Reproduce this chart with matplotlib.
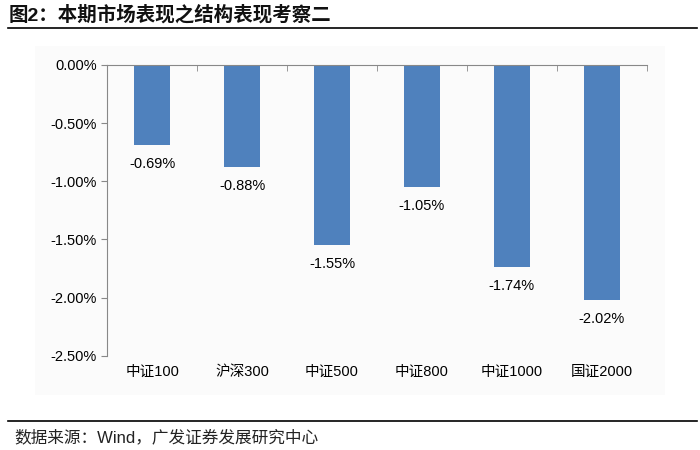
import matplotlib.pyplot as plt
from matplotlib.patches import Rectangle
from matplotlib.ticker import FuncFormatter

plt.rcParams['font.family'] = ['Liberation Sans', 'Noto Sans CJK SC', 'DejaVu Sans']

categories = ['中证100', '沪深300', '中证500', '中证800', '中证1000', '国证2000']
values = [-0.69, -0.88, -1.55, -1.05, -1.74, -2.02]
yticks = [0, -0.5, -1.0, -1.5, -2.0, -2.5]

fig = plt.figure(figsize=(7, 4.5), dpi=100)

# faint chart-area panel behind the plot
fig.add_artist(Rectangle((0.05, 0.122), 0.9, 0.776, transform=fig.transFigure,
                         facecolor='#fbfbfb', edgecolor='none', zorder=0))

# header and footer
fig.text(0.012, 0.966, '图2：本期市场表现之结构表现考察二', fontsize=14,
         fontweight='bold', va='center', ha='left', color='#111111')
fig.add_artist(plt.Line2D([0.012, 0.996], [0.937, 0.937], color='black', lw=1.2))
fig.add_artist(plt.Line2D([0.012, 0.996], [0.064, 0.064], color='black', lw=1.2))
fig.text(0.02, 0.028, '数据来源：Wind，广发证券发展研究中心', fontsize=12,
         va='center', ha='left', color='#222222')

ax = fig.add_axes([0.153, 0.209, 0.771, 0.647])
ax.set_facecolor('none')
x = range(len(categories))
ax.bar(x, values, width=0.4, color='#4f81bd', zorder=2)

for i, v in enumerate(values):
    ax.text(i, v - 0.1, f'{v:.2f}%', ha='center', va='top', fontsize=10.5)

ax.set_ylim(-2.5, 0)
ax.set_xlim(-0.5, len(categories) - 0.5)
ax.set_yticks(yticks)
ax.yaxis.set_major_formatter(FuncFormatter(lambda v, p: f'{v:.2f}%'))
ax.tick_params(axis='y', labelsize=10.5, length=4, color='#888888', direction='out')

# category axis sits at zero (top), labels at bottom
ax.spines['bottom'].set_visible(False)
ax.spines['right'].set_visible(False)
ax.spines['top'].set_color('#888888')
ax.spines['left'].set_color('#888888')
ax.set_xticks([])
ax.set_xticks([i + 0.5 for i in range(-1, len(categories))], minor=True)
ax.tick_params(axis='x', which='minor', top=True, bottom=False, direction='in',
               length=4, color='#888888')
for i, c in enumerate(categories):
    ax.text(i, -2.5 - 0.08, c, ha='center', va='top', fontsize=10.5)

fig.savefig('out.png', dpi=100)
